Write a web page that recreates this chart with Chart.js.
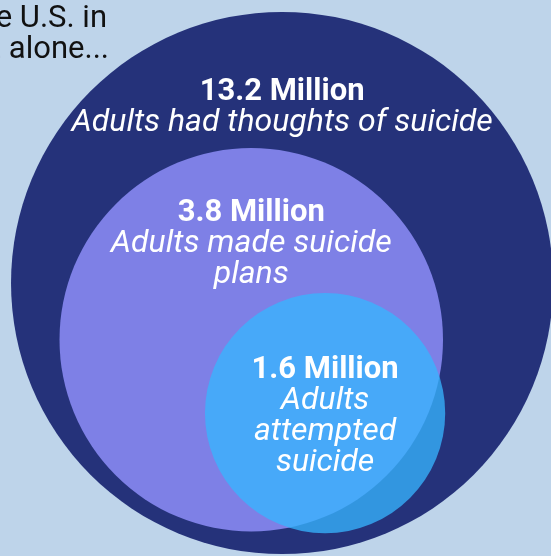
<!DOCTYPE html>
<html lang="en">
<head>
<meta charset="UTF-8">
<title>Suicide thoughts, plans and attempts</title>
<script src="https://cdn.jsdelivr.net/npm/chart.js@4.4.0/dist/chart.umd.min.js"></script>
<style>
  html, body { margin: 0; padding: 0; background: #bed4ea; overflow: hidden; }
  #wrap { width: 551px; height: 556px; }
</style>
</head>
<body>
<div id="wrap"><canvas id="chart" width="551" height="556"></canvas></div>
<script>
// data (millions of U.S. adults, 2022)
const values = [13.2, 3.8, 1.6];
const unit = 'Million';
const descriptions = [
  ['Adults had thoughts of suicide'],
  ['Adults made suicide', 'plans'],
  ['Adults', 'attempted', 'suicide']
];
const intro = ['In the U.S. in', '2022 alone...'];

// circle layout, in percent of the chart area (x, y, radius as % of width)
const centerX = [51.2, 45.6, 59.0];
const centerY = [50.9, 61.1, 74.3];
const radiusPct = [49.2, 34.8, 21.8];
const labelOffset = [-183, -119, -35];   // headline baseline, px from centre

const colors = ['#25327a', '#7e80e6', 'rgba(54, 181, 255, 0.77)'];

const points = values.map((v, i) => ({ x: centerX[i], y: centerY[i] }));

const textPlugin = {
  id: 'circleText',
  afterDatasetsDraw(chart) {
    const ctx = chart.ctx;
    const meta = chart.getDatasetMeta(0);
    ctx.save();
    ctx.fillStyle = '#fff';
    ctx.textAlign = 'center';
    ctx.textBaseline = 'alphabetic';
    meta.data.forEach((pt, i) => {
      let y = pt.y + labelOffset[i];
      ctx.font = 'bold 31px Roboto';
      ctx.fillText(values[i] + ' ' + unit, pt.x, y);
      ctx.font = 'italic 32px Roboto';
      descriptions[i].forEach(line => {
        y += 31;
        ctx.fillText(line, pt.x, y);
      });
    });
    // intro text, partly cut off at the left edge
    ctx.fillStyle = '#111';
    ctx.textAlign = 'right';
    ctx.font = '31px Roboto';
    ctx.fillText(intro[0], 107, 27);
    ctx.fillText(intro[1], 109, 58);
    ctx.restore();
  }
};

new Chart(document.getElementById('chart'), {
  type: 'bubble',
  data: {
    datasets: [{
      data: points,
      backgroundColor: colors,
      borderWidth: 0,
      clip: false,
      radius: c => (c.chart.chartArea || c.chart).width * radiusPct[c.dataIndex] / 100
    }]
  },
  options: {
    responsive: false,
    animation: false,
    events: [],
    layout: { padding: 0, autoPadding: false },
    plugins: { legend: { display: false }, tooltip: { enabled: false } },
    scales: {
      x: { display: false, min: 0, max: 100 },
      y: { display: false, min: 0, max: 100, reverse: true }
    }
  },
  plugins: [textPlugin]
});
</script>
</body>
</html>
